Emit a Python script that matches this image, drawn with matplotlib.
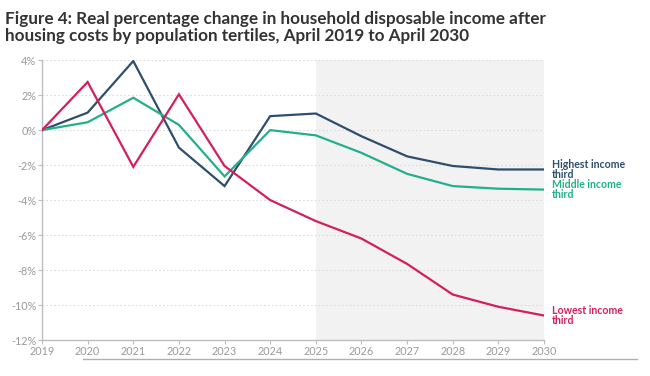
import matplotlib.pyplot as plt
from matplotlib.lines import Line2D

years = [2019, 2020, 2021, 2022, 2023, 2024, 2025, 2026, 2027, 2028, 2029, 2030]
highest = [0.0, 1.0, 3.95, -1.0, -3.2, 0.8, 0.95, -0.35, -1.5, -2.05, -2.25, -2.25]
middle = [0.0, 0.45, 1.85, 0.3, -2.65, 0.0, -0.3, -1.3, -2.5, -3.2, -3.35, -3.4]
lowest = [0.0, 2.75, -2.1, 2.05, -2.05, -4.0, -5.2, -6.2, -7.65, -9.4, -10.1, -10.6]

series_labels = ["Highest income\nthird", "Middle income\nthird", "Lowest income\nthird"]
colors = ["#2e4e6d", "#22b08a", "#d41f5f"]
y_ticks = [4, 2, 0, -2, -4, -6, -8, -10, -12]
forecast_start = 2025

plt.rcParams['font.family'] = ['Lato', 'DejaVu Sans']

fig = plt.figure(figsize=(6.5, 3.76), dpi=100)
ax = fig.add_axes([0.0646, 0.0957, 0.7724, 0.7443])

# shaded forecast period
ax.axvspan(forecast_start, years[-1], color="#f2f2f2", zorder=0, lw=0)

for vals, col in zip([highest, middle, lowest], colors):
    ax.plot(years, vals, color=col, lw=1.6, zorder=3, solid_joinstyle="miter")

# end labels
for vals, lab, col in zip([highest, middle, lowest], series_labels, colors):
    ax.text(years[-1] + 0.18, vals[-1], lab, color=col, fontsize=7.6,
            fontweight="bold", va="center", ha="left", linespacing=0.82,
            clip_on=False)

ax.set_xlim(years[0], years[-1])
ax.set_ylim(-12, 4)
ax.set_xticks(years)
ax.set_yticks(y_ticks)
ax.set_yticklabels([f"{t}%" for t in y_ticks])

for t in y_ticks[:-1]:
    ax.axhline(t, color="#dcdcdc", lw=0.8, ls=(0, (1.5, 2)), zorder=1)

for s in ["top", "right"]:
    ax.spines[s].set_visible(False)
for s in ["left", "bottom"]:
    ax.spines[s].set_color("#bdbdbd")
    ax.spines[s].set_linewidth(1.0)

ax.tick_params(axis="both", colors="#bdbdbd", labelcolor="#9a9a9a",
               labelsize=7.8, length=3, width=0.8, pad=1)

fig.text(0.008, 0.972, "Figure 4: Real percentage change in household disposable income after\n"
         "housing costs by population tertiles, April 2019 to April 2030",
         fontsize=12.3, fontweight="bold", color="#333333", va="top", ha="left",
         linespacing=1.12)

# thin rule under the chart
fig.add_artist(Line2D([83 / 650, 637 / 650], [1 - 359 / 376, 1 - 359 / 376],
                      color="#b0b0b0", lw=1.0))

fig.savefig("out.png", dpi=100, facecolor="white")
